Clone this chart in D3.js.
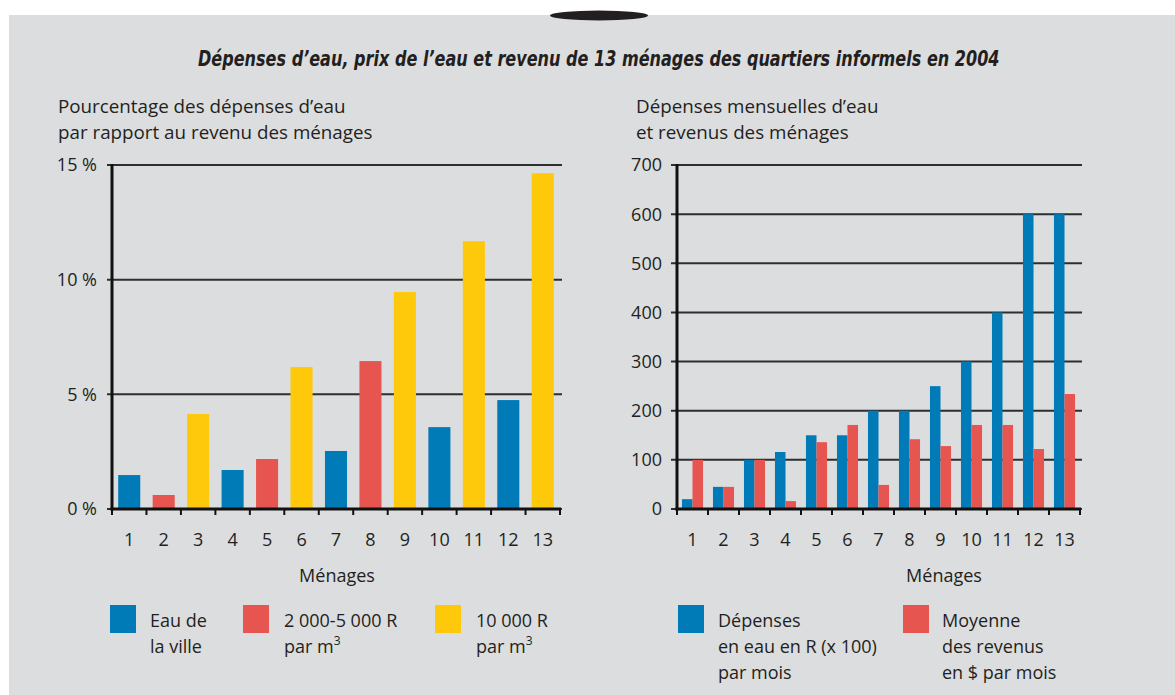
<!DOCTYPE html>
<html>
<head>
<meta charset="utf-8">
<script src="https://cdn.jsdelivr.net/npm/d3@7"></script>
<style>
  html, body { margin: 0; padding: 0; background: #ffffff; }
  svg { display: block; }
  text { font-family: "Open Sans", "Noto Sans", sans-serif; fill: #231f20; }
</style>
</head>
<body>
<svg id="chart" width="1175" height="695"></svg>
<script>
// ---------- DATA ----------
const menages = ["1","2","3","4","5","6","7","8","9","10","11","12","13"];
// Left chart: % of income spent on water, with water source type
const pctDepenses = [1.48, 0.61, 4.14, 1.70, 2.18, 6.19, 2.53, 6.45, 9.46, 3.57, 11.68, 4.75, 14.64];
const sourceType  = ["ville","prive","camion","ville","prive","camion","ville","prive","camion","ville","camion","ville","camion"];
const leftTicks = [0, 5, 10, 15];
// Right chart
const depensesEau = [20, 45, 100, 116, 150, 150, 200, 200, 250, 300, 400, 600, 600];   // R (x100) per month
const revenus     = [100, 45, 100, 16, 136, 171, 49, 142, 128, 171, 171, 122, 234];   // $ per month
const rightTicks = [0, 100, 200, 300, 400, 500, 600, 700];

const titre = "Dépenses d’eau, prix de l’eau et revenu de 13 ménages des quartiers informels en 2004";
const leftAxisTitle = ["Pourcentage des dépenses d’eau", "par rapport au revenu des ménages"];
const rightAxisTitle = ["Dépenses mensuelles d’eau", "et revenus des ménages"];
const leftLegend = [
  {key: "ville",  lines: ["Eau de", "la ville"]},
  {key: "prive",  lines: ["2 000-5 000 R", "par m|3"]},
  {key: "camion", lines: ["10 000 R", "par m|3"]}
];
const rightLegend = [
  {key: "dep", lines: ["Dépenses", "en eau en R (x 100)", "par mois"]},
  {key: "rev", lines: ["Moyenne", "des revenus", "en $ par mois"]}
];

// ---------- STYLE ----------
const BLUE = "#007bb8", RED = "#e6554f", YELLOW = "#ffc90b";
const colorLeft = d3.scaleOrdinal().domain(["ville","prive","camion"]).range([BLUE, RED, YELLOW]);
const colorRight = d3.scaleOrdinal().domain(["dep","rev"]).range([BLUE, RED]);
const INK = "#231f20", GRID = "#2e2e2e";

const svg = d3.select("#chart");

// background panel
svg.append("rect").attr("x", 9).attr("y", 15).attr("width", 1166).attr("height", 680).attr("fill", "#dcdddf");
svg.append("ellipse").attr("cx", 599).attr("cy", 15.5).attr("rx", 49).attr("ry", 5).attr("fill", "#231f20");

// title (condensed bold italic: horizontally scaled to the reference width)
const titleText = svg.append("text")
  .attr("x", 0).attr("y", 0)
  .style("font-family", "'DejaVu Sans', sans-serif")
  .style("font-weight", "bold").style("font-style", "italic")
  .style("font-size", "20.5px")
  .text(titre);
const natW = titleText.node().getComputedTextLength();
titleText.attr("transform", `translate(198,66) scale(${802 / natW},1)`);

const Y0 = 509, YTOP = 165;
const TICKFS = "18px", LABFS = "18px";

function drawFrame(g, y, ticks, fmt, gridLeft, gridRight, labelRight) {
  g.selectAll(".grid").data(ticks).join("line")
    .attr("x1", gridLeft).attr("x2", gridRight)
    .attr("y1", d => y(d)).attr("y2", d => y(d))
    .attr("stroke", GRID).attr("stroke-width", 2);
  g.selectAll(".ylab").data(ticks).join("text")
    .attr("x", labelRight).attr("y", d => y(d)).attr("dy", "0.36em")
    .attr("text-anchor", "end").style("font-size", TICKFS)
    .text(fmt);
}

// ---------- LEFT CHART ----------
const gL = svg.append("g");
const xL = d3.scaleBand().domain(menages).range([112, 560]).paddingInner(0.36).paddingOuter(0.18);
const yL = d3.scaleLinear().domain([0, 15]).range([Y0, YTOP]);

drawFrame(gL, yL, leftTicks, d => d + " %", 107, 562, 97);

gL.selectAll(".bar").data(menages).join("rect")
  .attr("x", d => xL(d))
  .attr("width", xL.bandwidth())
  .attr("y", (d, i) => yL(pctDepenses[i]))
  .attr("height", (d, i) => Y0 - yL(pctDepenses[i]))
  .attr("fill", (d, i) => colorLeft(sourceType[i]));

gL.append("line").attr("x1", 112).attr("x2", 112).attr("y1", YTOP - 1).attr("y2", Y0 + 1.5)
  .attr("stroke", "#111").attr("stroke-width", 3);
gL.append("line").attr("x1", 110.5).attr("x2", 561).attr("y1", Y0).attr("y2", Y0)
  .attr("stroke", "#111").attr("stroke-width", 3);
const bL = d3.range(menages.length + 1).map(i => xL.range()[0] + i * xL.step());
gL.selectAll(".xt").data(bL).join("line")
  .attr("x1", d => d).attr("x2", d => d).attr("y1", Y0).attr("y2", Y0 + 6)
  .attr("stroke", "#111").attr("stroke-width", 2);
const axL = gL.append("g").attr("transform", `translate(0,${Y0})`)
  .call(d3.axisBottom(xL).tickSize(0).tickPadding(0));
axL.select(".domain").remove();
axL.selectAll("text").attr("y", 37).attr("dy", 0).style("font-size", TICKFS).style("fill", INK)
  .style("font-family", "'Open Sans', sans-serif");
gL.append("text").attr("x", 337).attr("y", 582).attr("text-anchor", "middle").style("font-size", LABFS).text("Ménages");
leftAxisTitle.forEach((t, i) => gL.append("text").attr("x", 58).attr("y", 113 + i * 26).style("font-size", "18.8px").text(t));

// ---------- RIGHT CHART ----------
const gR = svg.append("g");
const xR = d3.scaleBand().domain(menages).range([677, 1080]).paddingInner(0.32).paddingOuter(0.16);
const xSub = d3.scaleBand().domain(["dep","rev"]).range([0, xR.bandwidth()]);
const yR = d3.scaleLinear().domain([0, 700]).range([Y0, YTOP]);

drawFrame(gR, yR, rightTicks, d => d, 671, 1082, 662);

const series = [{key: "dep", values: depensesEau}, {key: "rev", values: revenus}];
series.forEach(s => {
  gR.selectAll(".bar-" + s.key).data(menages).join("rect")
    .attr("x", d => xR(d) + xSub(s.key))
    .attr("width", xSub.bandwidth())
    .attr("y", (d, i) => yR(s.values[i]))
    .attr("height", (d, i) => Y0 - yR(s.values[i]))
    .attr("fill", colorRight(s.key));
});

gR.append("line").attr("x1", 677).attr("x2", 677).attr("y1", YTOP - 1).attr("y2", Y0 + 1.5)
  .attr("stroke", "#111").attr("stroke-width", 3);
gR.append("line").attr("x1", 675.5).attr("x2", 1081).attr("y1", Y0).attr("y2", Y0)
  .attr("stroke", "#111").attr("stroke-width", 3);
const bR = d3.range(menages.length + 1).map(i => xR.range()[0] + i * xR.step());
gR.selectAll(".xt").data(bR).join("line")
  .attr("x1", d => d).attr("x2", d => d).attr("y1", Y0).attr("y2", Y0 + 6)
  .attr("stroke", "#111").attr("stroke-width", 2);
const axR = gR.append("g").attr("transform", `translate(0,${Y0})`)
  .call(d3.axisBottom(xR).tickSize(0).tickPadding(0));
axR.select(".domain").remove();
axR.selectAll("text").attr("y", 37).attr("dy", 0).style("font-size", TICKFS).style("fill", INK)
  .style("font-family", "'Open Sans', sans-serif");
gR.append("text").attr("x", 944).attr("y", 582).attr("text-anchor", "middle").style("font-size", LABFS).text("Ménages");
rightAxisTitle.forEach((t, i) => gR.append("text").attr("x", 636).attr("y", 113 + i * 26).style("font-size", "18.8px").text(t));

// ---------- LEGENDS ----------
function legendLine(sel, line) {
  const parts = line.split("|");
  sel.text(parts[0]);
  if (parts[1]) sel.append("tspan").attr("dy", -8).style("font-size", "12px").text(parts[1]);
}
const LEGFS = "18px";
const legLX = [110, 243, 435];
leftLegend.forEach((L, i) => {
  const g = svg.append("g").attr("transform", `translate(${legLX[i]},605)`);
  g.append("rect").attr("width", 26).attr("height", 28).attr("fill", colorLeft(L.key));
  L.lines.forEach((ln, j) => legendLine(g.append("text").attr("x", i === 0 ? 40 : 41).attr("y", 22 + j * 26).style("font-size", LEGFS), ln));
});
const legRX = [678, 903];
rightLegend.forEach((L, i) => {
  const g = svg.append("g").attr("transform", `translate(${legRX[i]},605)`);
  g.append("rect").attr("width", 26).attr("height", 28).attr("fill", colorRight(L.key));
  L.lines.forEach((ln, j) => legendLine(g.append("text").attr("x", i === 0 ? 40 : 39).attr("y", 22 + j * 26).style("font-size", LEGFS), ln));
});
</script>
</body>
</html>
